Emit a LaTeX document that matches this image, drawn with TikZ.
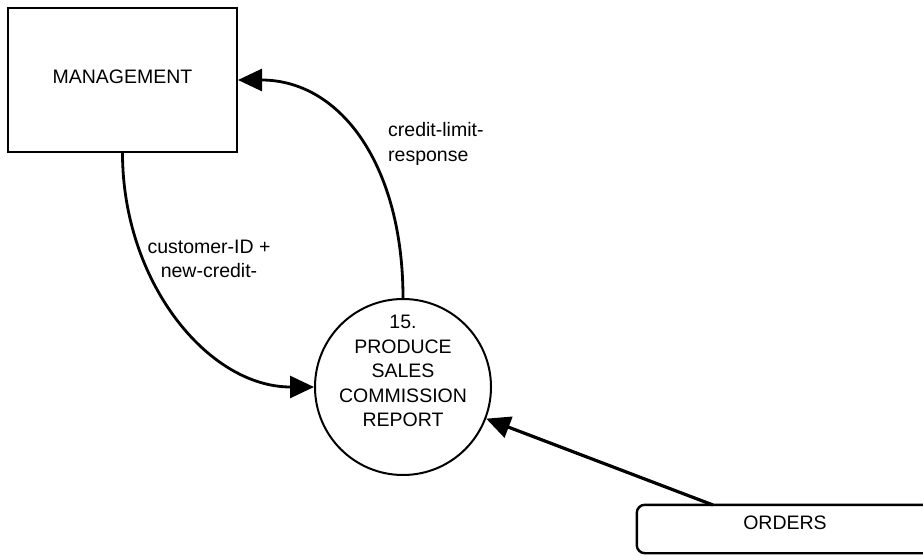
\documentclass[tikz,border=0pt]{standalone}
\usepackage{fontspec}
\setmainfont{Liberation Sans}
\usetikzlibrary{arrows.meta}
\begin{document}
\begin{tikzpicture}[x=1pt,y=-1pt,
  every node/.style={font=\fontsize{19.5}{24.5}\selectfont},
  entity/.style={draw,line width=2pt,minimum width=229pt,minimum height=144pt,inner sep=0pt},
  proc/.style={draw,circle,line width=2pt,minimum size=176pt,inner sep=0pt},
  flow/.style={line width=2.8pt,-{Triangle[length=24pt,width=22pt]}},
  lbl/.style={inner sep=0pt}]
\useasboundingbox (0,0) rectangle (923,556);
\node[entity] (m) at (122.5,80) {\raisebox{6pt}{MANAGEMENT}};
\node[proc] (p) at (403,387) {};
\node[lbl,align=center] (pt) at (403,371) {15.\\PRODUCE\\SALES\\COMMISSION\\REPORT};
\node[minimum width=286pt,minimum height=48pt,inner sep=0pt] (o) at (780,529) {};
\node[lbl] (ot) at (785,523) {ORDERS};
\draw[line width=2.4pt,rounded corners=8pt] (o.north east) -- (o.north west) -- (o.south west) -- (o.south east);
\coordinate (os) at (713,505);
\draw[flow] (m.south) .. controls +(0,129) and +(-106,0) .. (p.west);
\draw[flow] (p.north) .. controls +(0,-132) and +(103,0) .. (m.east);
\draw[flow,line width=3.2pt] (os) -- (p);
\node[lbl,align=left,anchor=west] (l1) at (388,144) {credit-limit-\\response};
\node[lbl,align=center] (l2) at (209,259) {customer-ID +\\new-credit-};
\end{tikzpicture}
\end{document}
